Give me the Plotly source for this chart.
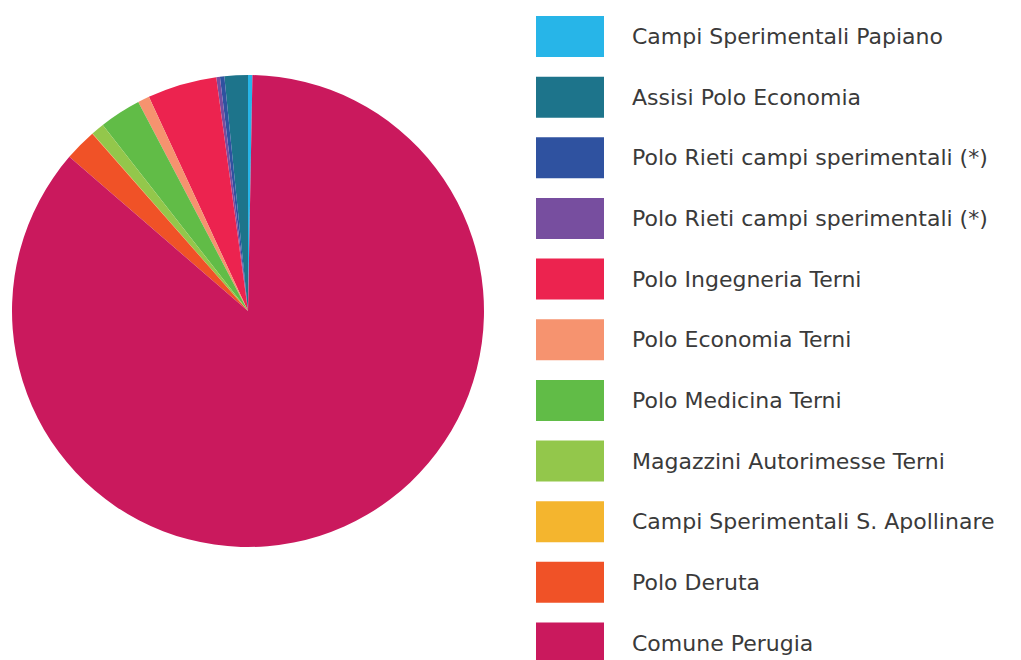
import plotly.graph_objects as go

# Share of each site (percent)
names = [
    "Campi Sperimentali Papiano",
    "Assisi Polo Economia",
    "Polo Rieti campi sperimentali (*)",
    "Polo Rieti campi sperimentali (*)",
    "Polo Ingegneria Terni",
    "Polo Economia Terni",
    "Polo Medicina Terni",
    "Magazzini Autorimesse Terni",
    "Campi Sperimentali S. Apollinare",
    "Polo Deruta",
    "Comune Perugia",
]
values = [0.3, 1.6, 0.3, 0.25, 4.75, 0.8, 2.85, 0.9, 0.02, 2.2, 86.03]
colors = [
    "#27B5E8", "#1D748B", "#2F52A0", "#774E9F", "#EC234F", "#F6936F",
    "#61BC47", "#93C74B", "#F4B52E", "#F05227", "#CA195D",
]

W, H = 1021, 660

fig = go.Figure(
    go.Pie(
        labels=[str(i) for i in range(len(names))],
        values=values,
        hovertext=names,
        hoverinfo="text+percent",
        marker=dict(colors=colors, line=dict(width=0)),
        textinfo="none",
        sort=False,
        direction="counterclockwise",
        rotation=0,
        showlegend=False,
        domain=dict(x=[12 / W, 484 / W], y=[(H - 547) / H, (H - 75) / H]),
    )
)

# Legend with large colour swatches
row_top, row_step, sw_h = 16, 60.65, 41
shapes, annotations = [], []
for i, (name, col) in enumerate(zip(names, colors)):
    top = row_top + i * row_step
    shapes.append(dict(
        type="rect", xref="paper", yref="paper",
        x0=536 / W, x1=604 / W,
        y0=1 - (top + sw_h) / H, y1=1 - top / H,
        fillcolor=col, line=dict(width=0),
    ))
    annotations.append(dict(
        text=name, xref="paper", yref="paper",
        x=630 / W, y=1 - (top + sw_h / 2) / H,
        xanchor="left", yanchor="middle", showarrow=False,
        font=dict(family="DejaVu Sans", size=22, color="#3a3a3a"),
    ))

fig.update_layout(
    width=W, height=H,
    margin=dict(l=0, r=0, t=0, b=0),
    paper_bgcolor="white",
    plot_bgcolor="white",
    shapes=shapes,
    annotations=annotations,
)

fig.write_html("out.html")
